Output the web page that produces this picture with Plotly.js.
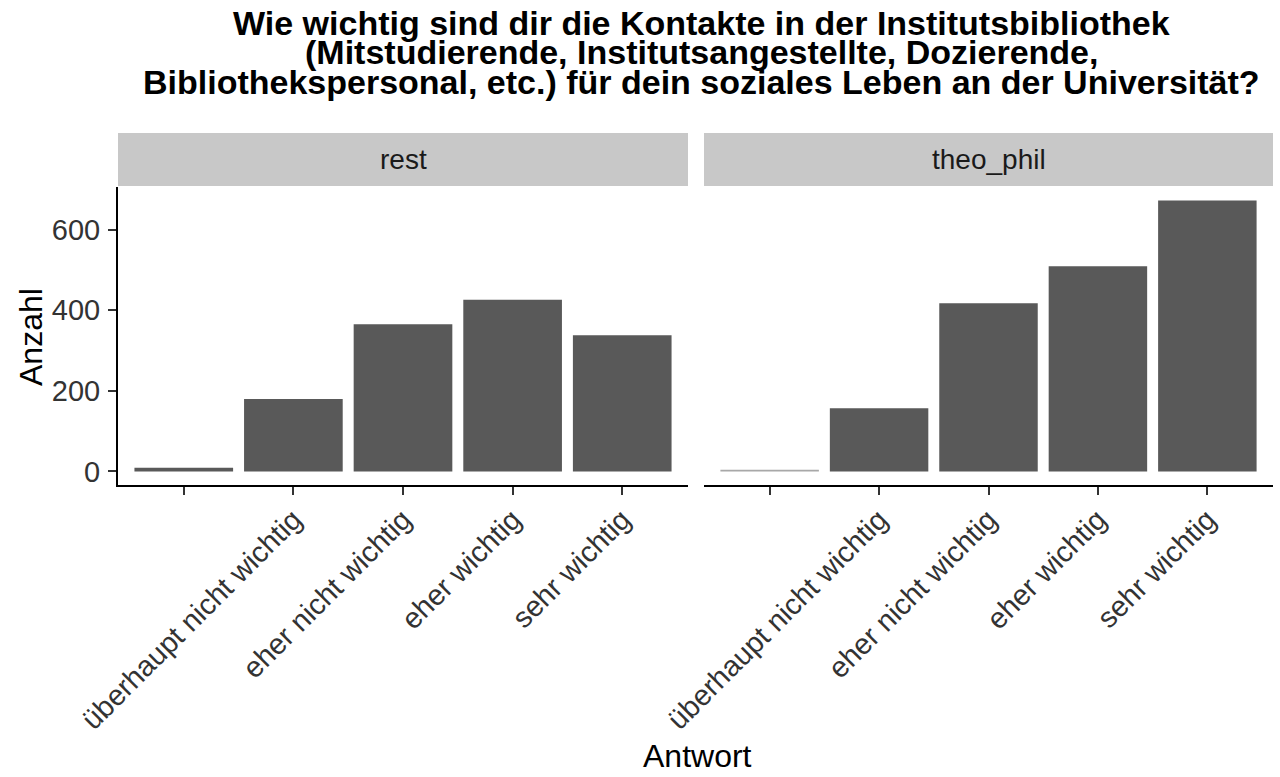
<!DOCTYPE html>
<html>
<head>
<meta charset="utf-8">
<script src="https://cdn.plot.ly/plotly-3.0.1.min.js"></script>
<style>html,body{margin:0;padding:0;background:#fff}#chart{width:1280px;height:777px}</style>
</head>
<body>
<div id="chart"></div>
<script>
// ---- data ----
const categories = ["", "überhaupt nicht wichtig", "eher nicht wichtig", "eher wichtig", "sehr wichtig"];
const facets = ["rest", "theo_phil"];
const restValues = [9, 180, 365, 426, 338];
const theoPhilValues = [4, 157, 417, 509, 672];
const yTicks = [0, 200, 400, 600];
const titleLines = [
  "Wie wichtig sind dir die Kontakte in der Institutsbibliothek",
  "(Mitstudierende, Institutsangestellte, Dozierende,",
  "Bibliothekspersonal, etc.) für dein soziales Leben an der Universität?"
];
const xTitle = "Antwort";
const yTitle = "Anzahl";

// ---- layout helpers ----
const W = 1280, H = 777;
const px = v => v / W;
const py = v => 1 - v / H;
const FONT = "Liberation Sans, Arial, Helvetica, sans-serif";
const idx = categories.map((c, i) => i);
const maxV = Math.max(...restValues, ...theoPhilValues);
const yRange = [-0.05 * maxV, 1.05 * maxV];

const barStyle = {color: "#595959", line: {width: 0}};
const traces = [
  {type: "bar", x: idx, y: restValues, width: 0.9, marker: barStyle, xaxis: "x", yaxis: "y", hoverinfo: "x+y", name: facets[0]},
  {type: "bar", x: idx, y: theoPhilValues, width: 0.9, marker: {color: ["#a8a8a8", "#595959", "#595959", "#595959", "#595959"], line: {width: 0}}, xaxis: "x2", yaxis: "y2", hoverinfo: "x+y", name: facets[1]}
];

const TICKFONT = {family: FONT, size: 29, color: "#333333"};
const xCommon = {
  range: [-0.6, categories.length - 0.4],
  tickmode: "array", tickvals: idx, ticktext: categories,
  tickangle: -45,
  showline: true, linecolor: "#000", linewidth: 2,
  ticks: "outside", ticklen: 8, tickwidth: 2, tickcolor: "#333",
  tickfont: TICKFONT,
  ticklabelstandoff: -4,
  showgrid: false, zeroline: false, fixedrange: true
};
const yDomain = [py(485), py(187)];

const layout = {
  width: W, height: H,
  margin: {l: 0, r: 0, t: 0, b: 0},
  paper_bgcolor: "#fff", plot_bgcolor: "#fff",
  showlegend: false,
  xaxis: Object.assign({}, xCommon, {domain: [px(118), px(688)], anchor: "y"}),
  xaxis2: Object.assign({}, xCommon, {domain: [px(704), px(1273)], anchor: "y2"}),
  yaxis: {
    domain: yDomain, range: yRange, anchor: "x",
    tickmode: "array", tickvals: yTicks,
    showline: true, linecolor: "#000", linewidth: 2,
    ticks: "outside", ticklen: 8, tickwidth: 2, tickcolor: "#333",
    tickfont: TICKFONT,
    ticklabelstandoff: 2,
    showgrid: false, zeroline: false, fixedrange: true
  },
  yaxis2: {
    domain: yDomain, range: yRange, anchor: "x2",
    showline: false, showticklabels: false, ticks: "",
    showgrid: false, zeroline: false, fixedrange: true
  },
  shapes: [
    {type: "rect", xref: "paper", yref: "paper", x0: px(118), x1: px(688), y0: py(186), y1: py(133), fillcolor: "#c8c8c8", line: {width: 0}},
    {type: "rect", xref: "paper", yref: "paper", x0: px(704), x1: px(1273), y0: py(186), y1: py(133), fillcolor: "#c8c8c8", line: {width: 0}}
  ],
  annotations: [
    {text: facets[0], xref: "paper", yref: "paper", x: px(403), y: py(160), xanchor: "center", yanchor: "middle", showarrow: false, font: {family: FONT, size: 28, color: "#1a1a1a"}},
    {text: facets[1], xref: "paper", yref: "paper", x: px(988.5), y: py(160), xanchor: "center", yanchor: "middle", showarrow: false, font: {family: FONT, size: 28, color: "#1a1a1a"}},
    {text: xTitle, xref: "paper", yref: "paper", x: px(697), y: py(756), xanchor: "center", yanchor: "middle", showarrow: false, font: {family: FONT, size: 32, color: "#000"}},
    {text: yTitle, xref: "paper", yref: "paper", x: px(31), y: py(337), xanchor: "center", yanchor: "middle", textangle: -90, showarrow: false, font: {family: FONT, size: 32, color: "#000"}}
  ].concat(titleLines.map((t, i) => ({
    text: "<b>" + t + "</b>", xref: "paper", yref: "paper", x: px(701), y: py(23 + i * 29.5),
    xanchor: "center", yanchor: "middle", showarrow: false,
    font: {family: FONT, size: 34, color: "#000"}
  })))
};

Plotly.newPlot("chart", traces, layout, {displayModeBar: false, staticPlot: true});
</script>
</body>
</html>
